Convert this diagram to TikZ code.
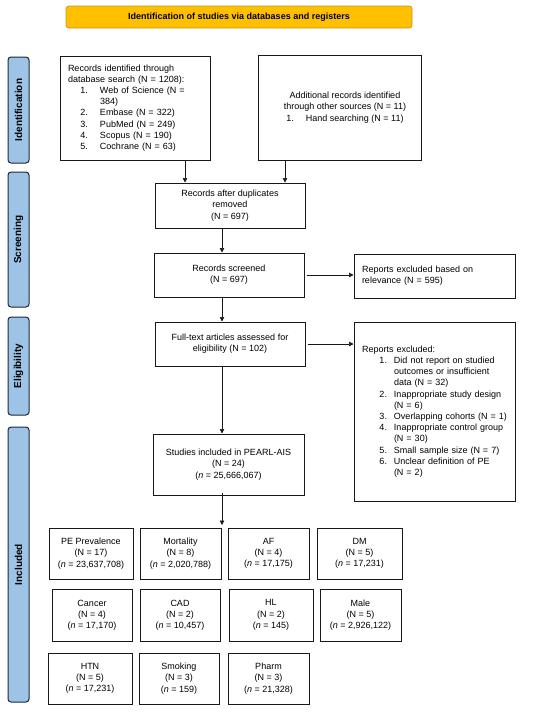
\documentclass[tikz,border=0pt]{standalone}
\usepackage{fontspec}
\setmainfont{Liberation Sans}
\usetikzlibrary{arrows.meta}
\definecolor{bannerfill}{RGB}{255,192,0}
\definecolor{bannerdraw}{RGB}{200,150,20}
\definecolor{sidefill}{RGB}{157,195,230}
\definecolor{sidedraw}{RGB}{30,40,55}
\definecolor{ink}{RGB}{25,25,25}
\newcommand\numA[1]{\makebox[20pt][r]{#1}\hspace{12pt}}
\newcommand\numB[1]{\makebox[25pt][r]{#1}\hspace{7pt}}
\begin{document}
\begin{tikzpicture}[x=1pt,y=-1pt,
  txt/.style={font=\fontsize{9}{11.2}\selectfont},
  box/.style={draw=ink, line width=1pt, inner sep=0pt, txt, align=center},
  lbox/.style={box, align=left, inner xsep=8pt},
  banner/.style={draw=bannerdraw, fill=bannerfill, line width=0.8pt, rounded corners=3pt,
     font=\fontsize{9}{11}\selectfont\bfseries, inner sep=0pt},
  side/.style={draw=sidedraw, fill=sidefill, line width=1pt, rounded corners=3pt,
     font=\fontsize{10}{12}\selectfont\bfseries, inner sep=0pt, rotate=90},
  arr/.style={draw=ink, line width=0.7pt, -{Triangle[length=4.5pt,width=4.5pt]}}]
\useasboundingbox (0,0) rectangle (550,713);
\fill[white] (0,0) rectangle (550,713);

% banner
\node[banner, minimum width=346pt, minimum height=22pt] (ban) at (239,17) {Identification of studies via databases and registers};

% side labels
\node[side, minimum width=106pt, minimum height=21pt] (sid) at (18.5,110) {Identification};
\node[side, minimum width=135pt, minimum height=21pt] (ssc) at (18.5,239.5) {Screening};
\node[side, minimum width=98pt, minimum height=21pt] (sel) at (18.5,366) {Eligibility};
\node[side, minimum width=275pt, minimum height=21pt] (sin) at (18.5,564.5) {Included};

% identification
\node[lbox, text width=134pt, minimum height=104pt] (b1) at (135,108) {Records identified through\\
database search (N = 1208):\\
\numA{1.}Web of Science (N =\\
\hspace*{32pt}384)\\
\numA{2.}Embase (N = 322)\\
\numA{3.}PubMed (N = 249)\\
\numA{4.}Scopus (N = 190)\\
\numA{5.}Cochrane (N = 63)};

\node[box, minimum width=163pt, minimum height=105pt] (b2) at (339.5,107.5) {};
\node[txt, align=center, inner sep=0pt] (b2t) at (345,107.5) {Additional records identified\\
through other sources (N = 11)\\
1.\hspace{12pt}Hand searching (N = 11)};

% screening
\node[box, minimum width=150pt, minimum height=45pt] (b3) at (230,205.5) {Records after duplicates\\removed\\(N = 697)};
\node[box, minimum width=150pt, minimum height=44pt] (b4) at (229,275) {Records screened\\(N = 697)};
\node[lbox, text width=145pt, minimum height=44pt] (b5) at (434.5,276) {Reports excluded based on\\relevance (N = 595)};

% eligibility
\node[box, minimum width=150pt, minimum height=44pt] (b6) at (230,344) {Full-text articles assessed for\\eligibility (N = 102)};
\node[lbox, text width=145pt, minimum height=179pt] (b7) at (434.5,411.5) {Reports excluded:\\
\numB{1.}Did not report on studied\\
\hspace*{32pt}outcomes or insufficient\\
\hspace*{32pt}data (N = 32)\\
\numB{2.}Inappropriate study design\\
\hspace*{32pt}(N = 6)\\
\numB{3.}Overlapping cohorts (N = 1)\\
\numB{4.}Inappropriate control group\\
\hspace*{32pt}(N = 30)\\
\numB{5.}Small sample size (N = 7)\\
\numB{6.}Unclear definition of PE\\
\hspace*{32pt}(N = 2)};

% included
\node[box, minimum width=151pt, minimum height=61pt] (b8) at (228.5,464.5) {Studies included in PEARL-AIS\\(N = 24)\\(\textit{n} = 25,666,067)};

\node[box, minimum width=84pt, minimum height=51pt] (r1a) at (91,553.5) {PE Prevalence\\(N = 17)\\(\textit{n} = 23,637,708)};
\node[box, minimum width=81pt, minimum height=51pt] (r1b) at (180.5,553.5) {Mortality\\(N = 8)\\(\textit{n} = 2,020,788)};
\node[box, minimum width=81pt, minimum height=51pt] (r1c) at (268.5,553.5) {AF\\(N = 4)\\(\textit{n} = 17,175)};
\node[box, minimum width=85pt, minimum height=51pt] (r1d) at (359.5,553.5) {DM\\(N = 5)\\(\textit{n} = 17,231)};

\node[box, minimum width=80pt, minimum height=52pt] (r2a) at (92,615) {Cancer\\(N = 4)\\(\textit{n} = 17,170)};
\node[box, minimum width=80pt, minimum height=52pt] (r2b) at (180,615) {CAD\\(N = 2)\\(\textit{n} = 10,457)};
\node[box, minimum width=84pt, minimum height=52pt] (r2c) at (271,615) {HL\\(N = 2)\\(\textit{n} = 145)};
\node[box, minimum width=81pt, minimum height=52pt] (r2d) at (360.5,615) {Male\\(N = 5)\\(\textit{n} = 2,926,122)};

\node[box, minimum width=84pt, minimum height=51pt] (r3a) at (90,678.5) {HTN\\(N = 5)\\(\textit{n} = 17,231)};
\node[box, minimum width=80pt, minimum height=51pt] (r3b) at (179,678.5) {Smoking\\(N = 3)\\(\textit{n} = 159)};
\node[box, minimum width=81pt, minimum height=51pt] (r3c) at (268.5,678.5) {Pharm\\(N = 3)\\(\textit{n} = 21,328)};

% connector guides
\coordinate (xa) at (185,0);
\coordinate (xb) at (285,0);
\coordinate (xc) at (222,0);
\coordinate (rowtop) at (222,525);

\draw[arr] (b1.south -| xa) -- (b3.north -| xa);
\draw[arr] (b2.south -| xb) -- (b3.north -| xb);
\draw[arr] (b3.south -| xc) -- (b4.north -| xc);
\draw[arr] ([xshift=2pt]b4.east) -- (b4.east -| b5.west);
\draw[arr] (b4.south -| xc) -- (b6.north -| xc);
\draw[arr] ([xshift=2pt]b6.east) -- (b6.east -| b7.west);
\draw[arr] (b6.south -| xc) -- (b8.north -| xc);
\draw[arr] ([yshift=3pt]b8.south -| xc) -- (rowtop);
\end{tikzpicture}
\end{document}
